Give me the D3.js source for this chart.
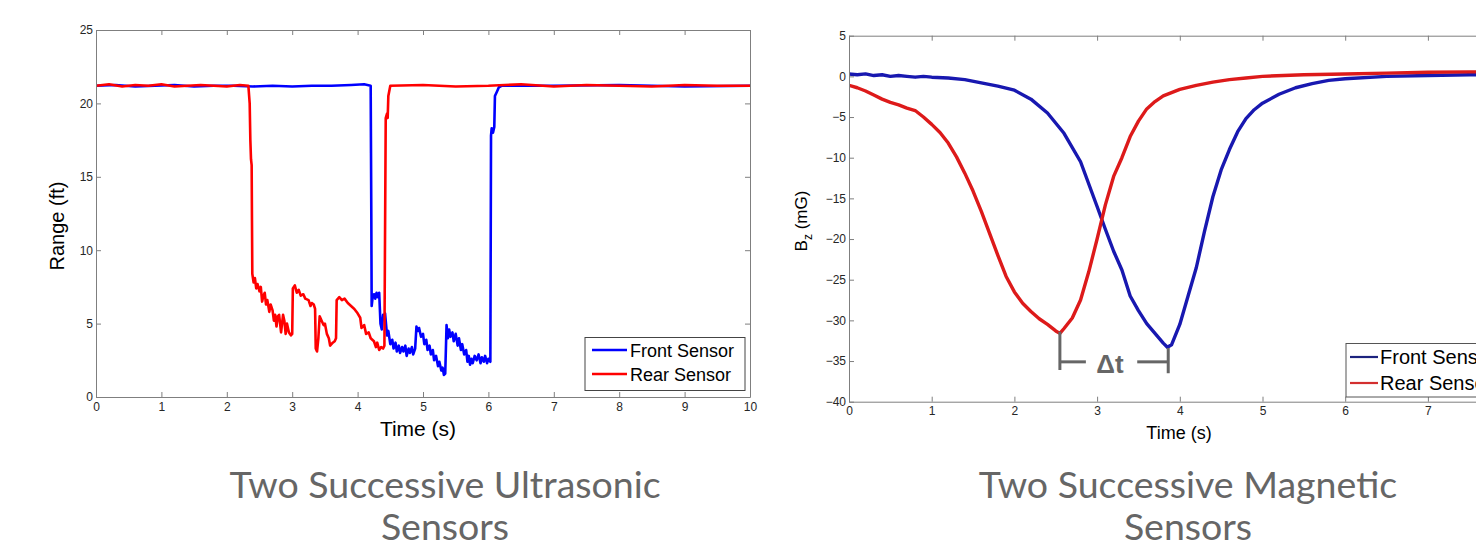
<!DOCTYPE html>
<html>
<head>
<meta charset="utf-8">
<script src="https://cdn.jsdelivr.net/npm/d3@7"></script>
<style>
  body { margin: 0; background: #fff; }
  svg { display: block; }
  .axis text { font-family: "Liberation Sans", Arial, sans-serif; font-size: 12px; fill: #262626; }
  .axis path, .axis line { stroke: #7f7f7f; }
  .lbl { font-family: "Liberation Sans", Arial, sans-serif; fill: #000; }
  .cap { font-family: Lato, "Open Sans", sans-serif; font-size: 37.5px; fill: #666; text-anchor: middle; }
</style>
</head>
<body>
<svg id="chart" width="1476" height="544"></svg>
<script>
// ---- ultrasonic sensors (left) ----
const usTicksX = [0, 1, 2, 3, 4, 5, 6, 7, 8, 9, 10];
const usTicksY = [0, 5, 10, 15, 20, 25];

const usFrontT = [0, 0.3, 0.6, 0.9, 1.2, 1.5, 1.8, 2.1, 2.4, 2.7, 3.0, 3.3, 3.6, 3.9, 4.1, 4.2, 4.205, 4.21, 4.215,
  4.23, 4.25, 4.27, 4.29, 4.31, 4.33, 4.35, 4.37, 4.39, 4.4, 4.42, 4.45, 4.47, 4.5, 4.53, 4.55, 4.58, 4.6, 4.63, 4.65,
  4.68, 4.7, 4.73, 4.75, 4.78, 4.8, 4.83, 4.85, 4.88, 4.9, 4.92, 4.94, 4.97, 5.0, 5.02, 5.05, 5.07, 5.1, 5.12, 5.15,
  5.17, 5.2, 5.23, 5.25, 5.28, 5.3, 5.32, 5.34, 5.36, 5.38, 5.4, 5.42, 5.45, 5.47, 5.5, 5.53, 5.55, 5.58, 5.6, 5.63,
  5.66, 5.68, 5.7, 5.72, 5.74, 5.76, 5.79, 5.82, 5.85, 5.88, 5.9, 5.93, 5.95, 5.98, 6.0, 6.03, 6.035, 6.04, 6.05,
  6.07, 6.09, 6.1, 6.13, 6.16, 6.2, 7, 8, 9, 10];
const usFrontR = [21.2, 21.25, 21.15, 21.2, 21.25, 21.15, 21.2, 21.2, 21.15, 21.2, 21.15, 21.2, 21.2, 21.25, 21.3, 21.2, 16.6, 12, 6.2,
  6.8, 7.0, 6.7, 7.1, 6.8, 7.1, 5.0, 4.6, 5.6, 5.3, 5.7, 4.2, 4.5, 3.6, 3.9, 3.3, 3.7, 3.1, 3.5, 3.0,
  3.4, 3.1, 3.5, 2.8, 3.3, 3.0, 3.4, 2.9, 3.3, 4.8, 4.5, 4.7, 4.1, 4.3, 3.6, 3.9, 3.2, 3.5, 2.9, 3.2,
  2.5, 2.8, 2.1, 2.4, 1.8, 2.0, 1.5, 1.6, 4.9, 4.0, 4.6, 4.1, 4.4, 3.8, 4.3, 3.5, 4.0, 3.2, 3.6, 2.9,
  3.2, 2.4, 2.8, 2.2, 2.6, 2.3, 2.8, 2.5, 2.9, 2.3, 2.7, 2.4, 2.8, 2.3, 2.6, 2.4, 10, 17.8, 18.3,
  18.0, 18.4, 20.5, 20.8, 21.1, 21.2, 21.2, 21.25, 21.15, 21.2];

const usRearT = [0, 0.2, 0.4, 0.6, 0.8, 1.0, 1.2, 1.4, 1.6, 1.8, 2.0, 2.2, 2.33, 2.35, 2.36, 2.37, 2.38, 2.385, 2.39,
  2.41, 2.43, 2.45, 2.47, 2.5, 2.52, 2.54, 2.56, 2.58, 2.6, 2.62, 2.65, 2.67, 2.7, 2.72, 2.74, 2.76, 2.78, 2.8, 2.83,
  2.86, 2.88, 2.9, 2.92, 2.95, 2.98, 3.0, 3.01, 3.04, 3.07, 3.1, 3.13, 3.17, 3.2, 3.25, 3.28, 3.3, 3.33, 3.35, 3.36,
  3.38, 3.4, 3.42, 3.45, 3.48, 3.5, 3.53, 3.56, 3.58, 3.62, 3.65, 3.67, 3.68, 3.72, 3.76, 3.8, 3.85, 3.9, 3.95, 4.0,
  4.04, 4.06, 4.1, 4.13, 4.17, 4.2, 4.25, 4.28, 4.3, 4.33, 4.36, 4.39, 4.41, 4.42, 4.43, 4.45, 4.46, 4.47, 4.5,
  5, 5.5, 6, 6.5, 7, 7.5, 8, 8.5, 9, 9.5, 10];
const usRearR = [21.2, 21.3, 21.15, 21.25, 21.2, 21.3, 21.15, 21.2, 21.25, 21.2, 21.15, 21.25, 21.2, 20.0, 17.5, 16.2, 15.8, 12, 8.4,
  7.8, 8.1, 7.4, 7.7, 7.2, 7.5, 6.5, 6.9, 7.1, 6.3, 6.6, 5.8, 6.3, 5.9, 5.2, 5.6, 4.8, 5.5, 5.6, 4.4,
  5.6, 5.2, 4.3, 5.0, 4.4, 4.2, 4.3, 7.4, 7.6, 7.1, 7.3, 6.9, 7.0, 6.7, 6.6, 6.2, 6.4, 6.3, 6.0, 3.3,
  3.1, 4.0, 5.5, 5.2, 4.9, 5.0, 4.3, 4.0, 3.5, 3.7, 3.8, 4.0, 6.6, 6.8, 6.6, 6.7, 6.4, 6.2, 6.0, 5.7,
  5.4, 4.7, 4.9, 4.3, 4.4, 4.0, 3.8, 3.4, 3.7, 3.2, 3.4, 3.3, 3.5, 11.4, 19.0, 19.3, 19.0, 20.5, 21.2,
  21.25, 21.15, 21.2, 21.3, 21.15, 21.25, 21.2, 21.15, 21.25, 21.2, 21.2];

// ---- magnetic sensors (right) ----
const magTicksX = [0, 1, 2, 3, 4, 5, 6, 7];
const magTicksY = [-40, -35, -30, -25, -20, -15, -10, -5, 0, 5];

const magFrontT = [0, 0.1, 0.2, 0.3, 0.4, 0.5, 0.6, 0.7, 0.8, 0.9, 1.0, 1.2, 1.4, 1.6, 1.8, 2.0, 2.2, 2.4, 2.6, 2.8,
  3.0, 3.1, 3.2, 3.3, 3.4, 3.5, 3.6, 3.7, 3.8, 3.85, 3.9, 4.0, 4.1, 4.2, 4.3, 4.4, 4.5, 4.6, 4.7, 4.8, 4.9, 5.0,
  5.2, 5.4, 5.6, 5.8, 6.0, 6.5, 7.0, 7.5, 8.0];
const magFrontB = [0.3, 0.2, 0.3, 0.1, 0.2, 0.0, 0.1, 0.0, -0.1, 0.0, -0.1, -0.2, -0.4, -0.8, -1.2, -1.7, -2.8, -4.5, -7.0, -10.5,
  -16.0, -18.8, -21.5, -23.8, -27.0, -28.8, -30.4, -31.6, -32.8, -33.3, -33.0, -30.5, -27.0, -23.5, -19.0, -14.8, -11.5, -9.0, -6.8, -5.2, -4.1, -3.3,
  -2.2, -1.4, -0.9, -0.5, -0.3, 0.0, 0.1, 0.2, 0.2];

const magRearT = [0, 0.1, 0.2, 0.3, 0.4, 0.5, 0.6, 0.7, 0.8, 0.9, 1.0, 1.1, 1.2, 1.3, 1.4, 1.5, 1.6, 1.7, 1.8, 1.9,
  2.0, 2.1, 2.2, 2.3, 2.4, 2.5, 2.55, 2.6, 2.7, 2.8, 2.9, 3.0, 3.1, 3.2, 3.3, 3.4, 3.5, 3.6, 3.7, 3.8, 3.9, 4.0,
  4.2, 4.4, 4.6, 4.8, 5.0, 5.5, 6.0, 6.5, 7.0, 7.5, 8.0];
const magRearB = [-1.1, -1.4, -1.8, -2.3, -2.8, -3.2, -3.5, -3.9, -4.2, -5.0, -5.9, -6.9, -8.2, -9.9, -11.9, -14.1, -16.6, -19.3, -22.0, -24.6,
  -26.5, -27.9, -28.9, -29.8, -30.5, -31.3, -31.6, -31.0, -29.7, -27.5, -24.0, -20.0, -15.8, -12.3, -10.0, -7.4, -5.5, -4.0, -3.1, -2.4, -2.0, -1.6,
  -1.1, -0.7, -0.4, -0.2, 0.0, 0.2, 0.3, 0.4, 0.5, 0.55, 0.6];

// Δt bracket: times of the two minima
const dtTimes = [2.55, 3.86];
const legendNames = ["Front Sensor", "Rear Sensor"];
const captions = [["Two Successive Ultrasonic", "Sensors"], ["Two Successive Magnetic", "Sensors"]];

const svg = d3.select("#chart");
svg.append("rect").attr("width", 1476).attr("height", 544).attr("fill", "#fff");

function frame(g, x, y, tx, ty) {
  const [x0, x1] = x.range(), [y0, y1] = y.range();
  g.append("g").attr("class", "axis").attr("transform", `translate(0,${y0})`)
    .call(d3.axisBottom(x).tickValues(tx).tickSizeInner(-5).tickSizeOuter(0).tickPadding(5));
  g.append("g").attr("class", "axis").attr("transform", `translate(0,${y1})`)
    .call(d3.axisTop(x).tickValues(tx).tickSizeInner(-5).tickSizeOuter(0).tickFormat(""));
  g.append("g").attr("class", "axis").attr("transform", `translate(${x0},0)`)
    .call(d3.axisLeft(y).tickValues(ty).tickSizeInner(-5).tickSizeOuter(0).tickPadding(3));
  g.append("g").attr("class", "axis").attr("transform", `translate(${x1},0)`)
    .call(d3.axisRight(y).tickValues(ty).tickSizeInner(-5).tickSizeOuter(0).tickFormat(""));
}

function trace(g, x, y, ts, vs, color, w, clip) {
  const pts = ts.map((t, i) => [t, vs[i]]);
  g.append("path")
    .datum(pts)
    .attr("clip-path", `url(#${clip})`)
    .attr("fill", "none")
    .attr("stroke", color)
    .attr("stroke-width", w)
    .attr("stroke-linejoin", "round")
    .attr("d", d3.line().x(d => x(d[0])).y(d => y(d[1])));
}

const defs = svg.append("defs");

// ---------- left chart ----------
const xU = d3.scaleLinear().domain([0, 10]).range([96, 750]);
const yU = d3.scaleLinear().domain([0, 25]).range([397, 30]);
defs.append("clipPath").attr("id", "clipU").append("rect")
  .attr("x", 96).attr("y", 30).attr("width", 654).attr("height", 367);
const gU = svg.append("g");
trace(gU, xU, yU, usFrontT, usFrontR, "#0000ff", 2.6, "clipU");
trace(gU, xU, yU, usRearT, usRearR, "#ff0000", 2.6, "clipU");
frame(gU, xU, yU, usTicksX, usTicksY);

gU.append("text").attr("class", "lbl").attr("font-size", 20)
  .attr("text-anchor", "middle")
  .attr("transform", "translate(64,226) rotate(-90)")
  .text("Range (ft)");
gU.append("text").attr("class", "lbl").attr("font-size", 21)
  .attr("text-anchor", "middle").attr("x", 418).attr("y", 436)
  .text("Time (s)");

const legU = gU.append("g");
legU.append("rect").attr("x", 585).attr("y", 337.5).attr("width", 160).attr("height", 53)
  .attr("fill", "#fff").attr("stroke", "#444").attr("stroke-width", 1);
[["#0000ff", 350], ["#ff0000", 374]].forEach((c, i) => {
  legU.append("line").attr("x1", 592).attr("x2", 627).attr("y1", c[1]).attr("y2", c[1])
    .attr("stroke", c[0]).attr("stroke-width", 2.5);
  legU.append("text").attr("class", "lbl").attr("font-size", 18)
    .attr("x", 630).attr("y", c[1] + 6.5).text(legendNames[i]);
});

// ---------- right chart ----------
const xM = d3.scaleLinear().domain([0, 8]).range([849, 849 + 8 * 82.7]);
const yM = d3.scaleLinear().domain([-40, 5]).range([401.7, 35.7]);
defs.append("clipPath").attr("id", "clipM").append("rect")
  .attr("x", 849).attr("y", 35.7).attr("width", 8 * 82.7).attr("height", 366);
const gM = svg.append("g");
trace(gM, xM, yM, magFrontT, magFrontB, "#1818b0", 3.4, "clipM");
trace(gM, xM, yM, magRearT, magRearB, "#dd1a1a", 3.4, "clipM");
frame(gM, xM, yM, magTicksX, magTicksY);

const yl = gM.append("text").attr("class", "lbl").attr("font-size", 17)
  .attr("text-anchor", "middle")
  .attr("transform", "translate(807,221) rotate(-90)");
yl.append("tspan").text("B");
yl.append("tspan").attr("font-size", 12).attr("dy", 5).text("z");
yl.append("tspan").attr("dy", -5).text(" (mG)");

gM.append("text").attr("class", "lbl").attr("font-size", 18)
  .attr("text-anchor", "middle").attr("x", 1179).attr("y", 439)
  .text("Time (s)");

// Δt annotation
const dtg = gM.append("g").attr("stroke", "#666").attr("stroke-width", 3).attr("fill", "none");
const xa = xM(dtTimes[0]), xb = xM(dtTimes[1]), ym = yM(-35.1);
dtg.append("line").attr("x1", xa).attr("x2", xa).attr("y1", yM(-31.4)).attr("y2", yM(-36.1));
dtg.append("line").attr("x1", xa).attr("x2", xa + 26).attr("y1", ym).attr("y2", ym);
dtg.append("line").attr("x1", xb).attr("x2", xb).attr("y1", yM(-33.4)).attr("y2", yM(-36.5));
dtg.append("line").attr("x1", xb - 31).attr("x2", xb).attr("y1", ym).attr("y2", ym);
gM.append("text").attr("font-family", "'Liberation Sans', Arial, sans-serif")
  .attr("font-size", 26).attr("font-weight", "bold").attr("fill", "#666")
  .attr("text-anchor", "middle").attr("x", (xa + xb) / 2 - 4).attr("y", 372.5)
  .text("Δt");

const legM = gM.append("g");
legM.append("rect").attr("x", 1346).attr("y", 343.5).attr("width", 180).attr("height", 53.5)
  .attr("fill", "#fff").attr("stroke", "#555").attr("stroke-width", 1);
[["#1c237e", 357], ["#d32f2f", 383]].forEach((c, i) => {
  legM.append("line").attr("x1", 1350).attr("x2", 1378).attr("y1", c[1]).attr("y2", c[1])
    .attr("stroke", c[0]).attr("stroke-width", 2.2);
  legM.append("text").attr("class", "lbl").attr("font-size", 20)
    .attr("x", 1380).attr("y", c[1] + 7).text(legendNames[i]);
});

// ---------- captions ----------
[[445, captions[0]], [1188, captions[1]]].forEach(([cx, lines]) => {
  lines.forEach((t, i) => {
    svg.append("text").attr("class", "cap").attr("x", cx).attr("y", 498 + i * 42).text(t);
  });
});
</script>
</body>
</html>
